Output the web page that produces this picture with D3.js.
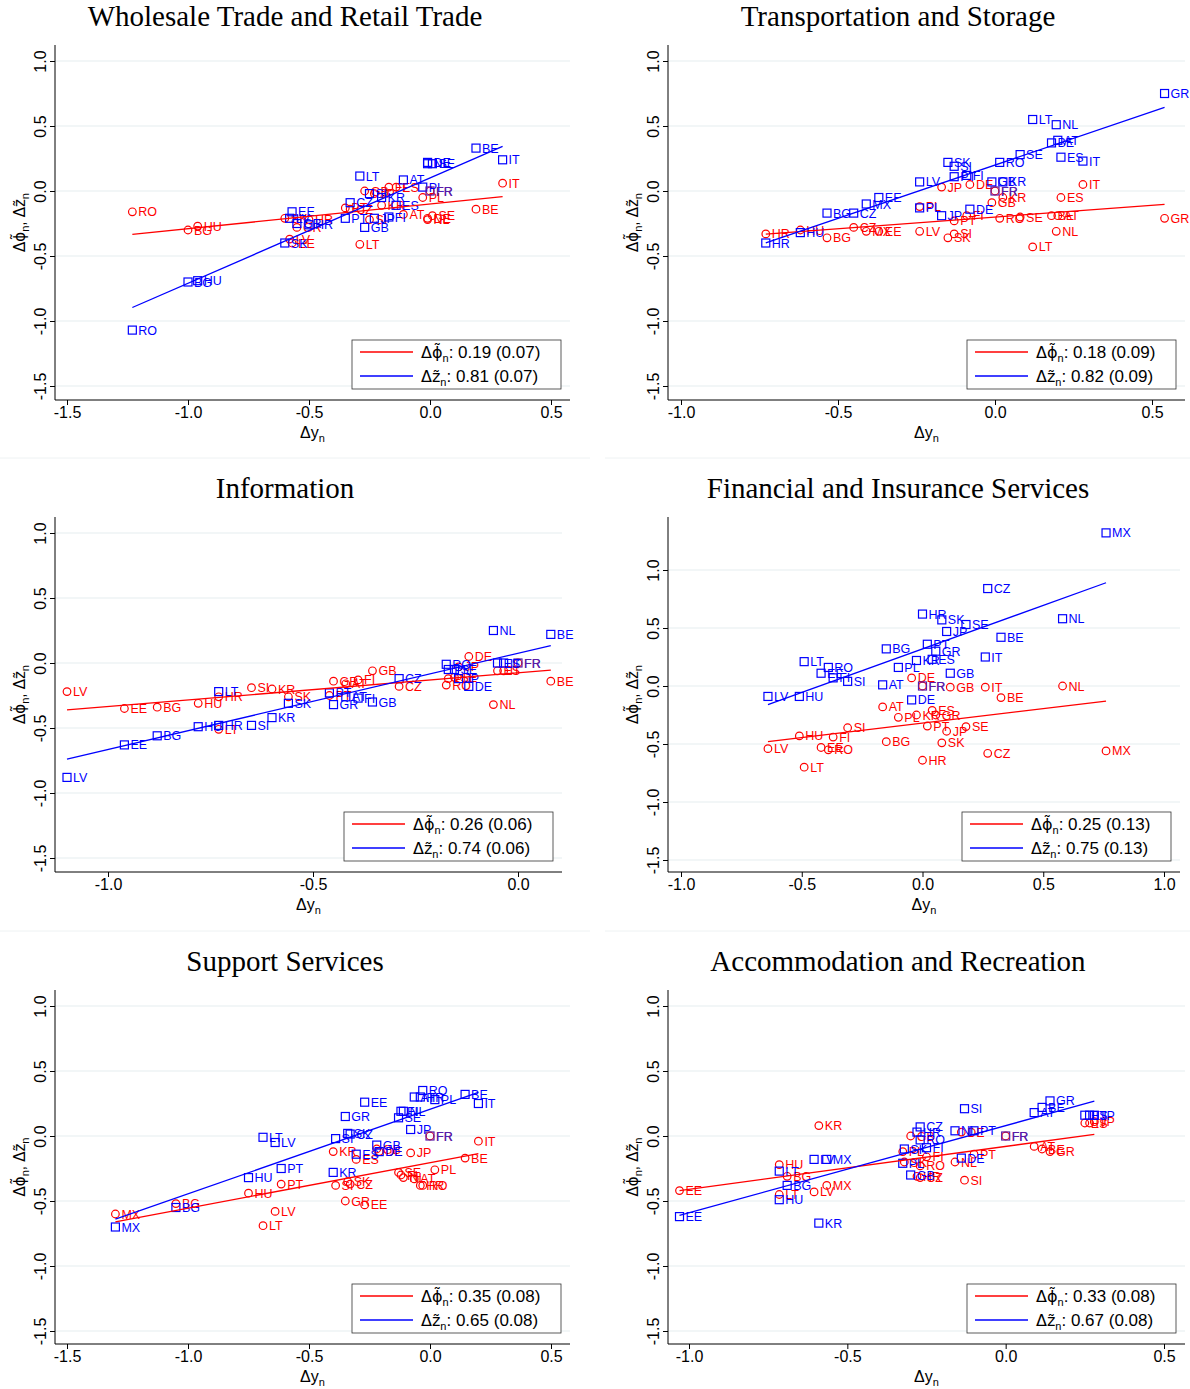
<!DOCTYPE html>
<html>
<head>
<meta charset="utf-8">
<script src="https://cdn.jsdelivr.net/npm/d3@7"></script>
<style>
  body { margin: 0; background: #fff; }
  svg text { font-family: "Liberation Sans", Arial, sans-serif; }
  .sym { font-family: "DejaVu Sans", sans-serif; }
</style>
</head>
<body>
<svg id="chart" width="1190" height="1389"></svg>
<script>
// ---- data ----
const panelTitles = ["Wholesale Trade and Retail Trade", "Transportation and Storage", "Information",
  "Financial and Insurance Services", "Support Services", "Accommodation and Recreation"];

const wholesaleCountries = ["RO","BG","HU","SK","LV","EE","GR","HR","CZ","PT","LT","GB","SI","JP","KR","FI","ES","AT","PL","DE","NL","SE","FR","BE","IT"];
const wholesaleDy  = [-1.23,-1.00,-0.96,-0.60,-0.58,-0.57,-0.55,-0.50,-0.33,-0.35,-0.29,-0.27,-0.25,-0.23,-0.20,-0.17,-0.14,-0.11,-0.03,-0.01,-0.01,0.01,0.00,0.19,0.30];
const wholesalePhi = [-0.16,-0.30,-0.27,-0.21,-0.37,-0.40,-0.28,-0.22,-0.14,-0.13,-0.41,0.00,-0.22,-0.02,-0.11,0.03,0.03,-0.18,-0.05,-0.21,-0.22,-0.19,0.00,-0.14,0.06];
const wholesaleZ   = [-1.07,-0.70,-0.69,-0.40,-0.21,-0.16,-0.25,-0.26,-0.09,-0.21,0.115,-0.28,-0.02,-0.21,-0.05,-0.20,-0.11,0.085,0.03,0.22,0.21,0.21,0.00,0.33,0.24];

const transportCountries = ["HR","HU","BG","CZ","MX","EE","LV","PL","SK","SI","JP","PT","FI","DE","GB","KR","FR","RO","SE","LT","BE","NL","AT","ES","IT","GR"];
const transportDy  = [-0.73,-0.62,-0.535,-0.45,-0.41,-0.37,-0.24,-0.24,-0.15,-0.13,-0.17,-0.13,-0.09,-0.08,-0.01,0.025,0.00,0.015,0.08,0.12,0.18,0.195,0.20,0.21,0.28,0.54];
const transportPhi = [-0.33,-0.30,-0.36,-0.28,-0.31,-0.31,-0.31,-0.12,-0.36,-0.33,0.03,-0.23,-0.19,0.05,-0.09,-0.05,0.00,-0.21,-0.20,-0.43,-0.19,-0.31,-0.19,-0.05,0.05,-0.21];
const transportZ   = [-0.40,-0.32,-0.17,-0.17,-0.10,-0.05,0.07,-0.13,0.22,0.19,-0.19,0.11,0.12,-0.14,0.07,0.07,0.00,0.22,0.28,0.55,0.37,0.51,0.39,0.26,0.23,0.75];

const infoCountries = ["LV","EE","BG","HU","LT","HR","SI","KR","SK","PT","GR","AT","FI","GB","CZ","RO","PL","SE","JP","DE","NL","ES","IT","FR","BE"];
const infoDy  = [-1.10,-0.96,-0.88,-0.78,-0.73,-0.73,-0.65,-0.60,-0.56,-0.46,-0.45,-0.42,-0.39,-0.355,-0.29,-0.175,-0.17,-0.155,-0.145,-0.12,-0.06,-0.05,-0.035,0.00,0.08];
const infoPhi = [-0.22,-0.35,-0.34,-0.31,-0.51,-0.26,-0.19,-0.20,-0.26,-0.25,-0.14,-0.16,-0.13,-0.06,-0.18,-0.17,-0.12,-0.11,-0.03,0.05,-0.32,-0.06,-0.06,0.00,-0.14];
const infoZ   = [-0.88,-0.63,-0.56,-0.49,-0.22,-0.48,-0.48,-0.42,-0.31,-0.23,-0.32,-0.26,-0.27,-0.30,-0.12,-0.01,-0.05,-0.05,-0.12,-0.18,0.25,0.00,0.00,0.00,0.22];

const financeCountries = ["LV","HU","LT","EE","RO","FI","SI","AT","BG","PL","DE","KR","HR","FR","PT","ES","GR","SK","JP","GB","SE","IT","CZ","BE","NL","MX"];
const financeDy  = [-0.64,-0.51,-0.49,-0.42,-0.39,-0.37,-0.31,-0.165,-0.15,-0.10,-0.045,-0.025,0.00,0.00,0.02,0.04,0.055,0.08,0.10,0.115,0.18,0.26,0.27,0.325,0.58,0.76];
const financePhi = [-0.54,-0.43,-0.70,-0.53,-0.55,-0.44,-0.36,-0.18,-0.48,-0.27,0.07,-0.25,-0.64,0.00,-0.345,-0.21,-0.25,-0.49,-0.39,-0.01,-0.35,-0.01,-0.58,-0.10,0.00,-0.56];
const financeZ   = [-0.09,-0.09,0.21,0.11,0.16,0.07,0.04,0.01,0.32,0.16,-0.12,0.22,0.62,0.00,0.36,0.23,0.30,0.57,0.47,0.11,0.53,0.25,0.84,0.42,0.58,1.32];

const supportCountries = ["MX","BG","HU","LT","LV","PT","KR","SI","GR","SK","CZ","ES","EE","GB","DE","SE","FI","NL","JP","AT","HR","RO","PL","FR","BE","IT"];
const supportDy  = [-1.30,-1.05,-0.75,-0.69,-0.64,-0.615,-0.40,-0.39,-0.35,-0.34,-0.33,-0.305,-0.27,-0.22,-0.21,-0.13,-0.12,-0.11,-0.08,-0.065,-0.04,-0.03,0.02,0.00,0.145,0.20];
const supportPhi = [-0.60,-0.52,-0.44,-0.69,-0.58,-0.37,-0.12,-0.38,-0.50,-0.35,-0.37,-0.18,-0.53,-0.10,-0.12,-0.28,-0.30,-0.32,-0.13,-0.33,-0.38,-0.38,-0.26,0.00,-0.17,-0.04];
const supportZ   = [-0.70,-0.55,-0.32,-0.01,-0.05,-0.25,-0.28,-0.02,0.15,0.02,0.015,-0.14,0.26,-0.07,-0.12,0.14,0.19,0.19,0.05,0.30,0.30,0.35,0.28,0.00,0.32,0.25];

const accomCountries = ["EE","HU","LT","BG","LV","KR","MX","SK","PL","GB","CZ","HR","RO","FI","NL","DE","SI","PT","FR","AT","BE","GR","ES","IT","JP"];
const accomDy  = [-1.03,-0.715,-0.715,-0.69,-0.605,-0.59,-0.565,-0.32,-0.325,-0.30,-0.27,-0.28,-0.27,-0.25,-0.16,-0.14,-0.13,-0.10,0.00,0.09,0.115,0.14,0.25,0.265,0.28];
const accomPhi = [-0.42,-0.22,-0.45,-0.31,-0.43,0.08,-0.38,-0.20,-0.12,0.00,-0.32,-0.31,-0.23,-0.16,-0.20,0.03,-0.34,-0.14,0.00,-0.08,-0.10,-0.12,0.10,0.10,0.11];
const accomZ   = [-0.62,-0.49,-0.27,-0.38,-0.18,-0.67,-0.18,-0.10,-0.21,-0.30,0.07,0.03,-0.03,-0.09,0.04,-0.17,0.21,0.04,0.00,0.18,0.22,0.27,0.16,0.16,0.16];

// fitted lines and legend numbers
const phiSlope     = [0.19, 0.18, 0.26, 0.25, 0.35, 0.33];
const phiIntercept = [-0.10, -0.20, -0.075, -0.32, -0.205, -0.08];
const zSlope       = [0.81, 0.82, 0.74, 0.75, 0.65, 0.67];
const zIntercept   = [0.10, 0.20, 0.075, 0.32, 0.205, 0.08];
const slopeSE      = [0.07, 0.09, 0.06, 0.13, 0.08, 0.08];

const xTicks = [[-1.5,-1,-0.5,0,0.5], [-1,-0.5,0,0.5], [-1,-0.5,0], [-1,-0.5,0,0.5,1], [-1.5,-1,-0.5,0,0.5], [-1,-0.5,0,0.5]];
const yTicks = [-1.5,-1,-0.5,0,0.5,1];

const panelData = [
  [wholesaleCountries, wholesaleDy, wholesalePhi, wholesaleZ],
  [transportCountries, transportDy, transportPhi, transportZ],
  [infoCountries, infoDy, infoPhi, infoZ],
  [financeCountries, financeDy, financePhi, financeZ],
  [supportCountries, supportDy, supportPhi, supportZ],
  [accomCountries, accomDy, accomPhi, accomZ]
];

// ---- layout ----
const frames = [
  {left: 55,  right: 570,  top: 45,  bottom: 400,  xr: [67, 551],   yr: [386, 61],    cx: 285},
  {left: 668, right: 1185, top: 45,  bottom: 400,  xr: [681, 1152], yr: [386, 61],    cx: 898},
  {left: 55,  right: 562,  top: 517, bottom: 872,  xr: [108, 518],  yr: [858, 533],   cx: 285},
  {left: 668, right: 1180, top: 517, bottom: 872,  xr: [681, 1164], yr: [860, 570],   cx: 898},
  {left: 55,  right: 570,  top: 990, bottom: 1344, xr: [67, 551],   yr: [1331, 1006], cx: 285},
  {left: 668, right: 1185, top: 990, bottom: 1344, xr: [689, 1164], yr: [1331, 1006], cx: 898}
];
const RED = "#ff0000", BLUE = "#0000ff", GRID = "#e6eef0";

const svg = d3.select("#chart");

// faint panel separators
[458, 931].forEach(yy => {
  svg.append("line").attr("x1", 0).attr("x2", 590).attr("y1", yy).attr("y2", yy).attr("stroke", "#eef2f3");
  svg.append("line").attr("x1", 605).attr("x2", 1190).attr("y1", yy).attr("y2", yy).attr("stroke", "#eef2f3");
});

function fmt(d) { return d.toFixed(1); }

panelData.forEach((pd, i) => {
  const f = frames[i];
  const [countries, dy, phi, z] = pd;
  const xt = xTicks[i];
  const x = d3.scaleLinear().domain([xt[0], xt[xt.length - 1]]).range(f.xr);
  const y = d3.scaleLinear().domain([-1.5, 1.0]).range(f.yr);
  const g = svg.append("g");

  // title
  g.append("text").attr("x", f.cx).attr("y", f.top - 19).attr("text-anchor", "middle")
    .style("font-family", "'Liberation Serif', 'DejaVu Serif', serif").attr("font-size", 29)
    .text(panelTitles[i]);

  // gridlines
  g.selectAll(".grid").data(yTicks).enter().append("line")
    .attr("x1", f.left).attr("x2", f.right)
    .attr("y1", d => y(d)).attr("y2", d => y(d))
    .attr("stroke", GRID).attr("stroke-width", 1.2);

  // x axis
  const xa = g.append("g").attr("transform", `translate(0,${f.bottom})`)
    .call(d3.axisBottom(x).tickValues(xt).tickFormat(fmt).tickSize(5).tickSizeOuter(0));
  xa.select(".domain").remove();
  xa.attr("font-size", 16).attr("font-family", "Liberation Sans, Arial, sans-serif");
  xa.selectAll("text").attr("y", 7).attr("fill", "#000");
  g.append("line").attr("x1", f.left).attr("x2", f.right).attr("y1", f.bottom).attr("y2", f.bottom)
    .attr("stroke", "#000");

  // y axis
  const ya = g.append("g").attr("transform", `translate(${f.left},0)`)
    .call(d3.axisLeft(y).tickValues(yTicks).tickFormat(fmt).tickSize(5).tickSizeOuter(0));
  ya.select(".domain").remove();
  ya.attr("font-size", 16).attr("font-family", "Liberation Sans, Arial, sans-serif");
  ya.selectAll("text").attr("transform", "rotate(-90)").attr("x", 0).attr("y", -9)
    .attr("dy", 0).attr("text-anchor", "middle").attr("fill", "#000");
  g.append("line").attr("x1", f.left).attr("x2", f.left).attr("y1", f.top).attr("y2", f.bottom)
    .attr("stroke", "#000");

  // axis titles
  const xt2 = g.append("text").attr("x", (f.left + f.right) / 2).attr("y", f.bottom + 38)
    .attr("text-anchor", "middle").attr("font-size", 16);
  xt2.append("tspan").text("Δy");
  xt2.append("tspan").attr("font-size", 11).attr("dy", 4).text("n");

  const yt = g.append("text")
    .attr("transform", `translate(${f.left - 30},${(f.top + f.bottom) / 2}) rotate(-90)`)
    .attr("text-anchor", "middle").attr("font-size", 15);
  yt.append("tspan").attr("class", "sym").text("Δϕ\u0303");
  yt.append("tspan").attr("font-size", 11).attr("dy", 4).text("n");
  yt.append("tspan").attr("dy", -4).text(", ");
  yt.append("tspan").attr("class", "sym").text("Δz\u0303");
  yt.append("tspan").attr("font-size", 11).attr("dy", 4).text("n");

  const pts = countries.map((c, k) => ({c, dy: dy[k], phi: phi[k], z: z[k]}));

  // red circles (Δφ)
  const red = g.append("g");
  red.selectAll("circle").data(pts).enter().append("circle")
    .attr("cx", d => x(d.dy)).attr("cy", d => y(d.phi)).attr("r", 3.8)
    .attr("fill", "none").attr("stroke", RED).attr("stroke-width", 1.2);
  red.selectAll("text").data(pts).enter().append("text")
    .attr("x", d => x(d.dy) + 6).attr("y", d => y(d.phi)).attr("dy", "0.36em")
    .attr("font-size", 12.5).attr("fill", d => d.c === "FR" ? "#5a1ca8" : RED).text(d => d.c);

  // blue squares (Δz)
  const blue = g.append("g");
  blue.selectAll("rect").data(pts).enter().append("rect")
    .attr("x", d => x(d.dy) - 4).attr("y", d => y(d.z) - 4).attr("width", 8).attr("height", 8)
    .attr("fill", "none").attr("stroke", d => d.c === "FR" ? "#5a1ca8" : BLUE).attr("stroke-width", 1.2);
  blue.selectAll("text").data(pts).enter().append("text")
    .attr("x", d => x(d.dy) + 6).attr("y", d => y(d.z)).attr("dy", "0.36em")
    .attr("font-size", 12.5).attr("fill", d => d.c === "FR" ? "#5a1ca8" : BLUE).text(d => d.c);

  // fitted lines
  const ext = d3.extent(dy);
  const line = d3.line().x(d => x(d[0])).y(d => y(d[1]));
  g.append("path").attr("d", line(ext.map(v => [v, phiIntercept[i] + phiSlope[i] * v])))
    .attr("stroke", RED).attr("stroke-width", 1.3).attr("fill", "none");
  g.append("path").attr("d", line(ext.map(v => [v, zIntercept[i] + zSlope[i] * v])))
    .attr("stroke", BLUE).attr("stroke-width", 1.3).attr("fill", "none");

  // legend
  const lw = 209, lh = 49;
  const lg = g.append("g").attr("transform", `translate(${f.right - 9 - lw},${f.bottom - 11 - lh})`);
  lg.append("rect").attr("width", lw).attr("height", lh).attr("fill", "#fff").attr("stroke", "#333").attr("stroke-width", 0.8);
  const entries = [
    {col: RED, sym: "Δϕ\u0303", coef: phiSlope[i]},
    {col: BLUE, sym: "Δz\u0303", coef: zSlope[i]}
  ];
  entries.forEach((e, k) => {
    const yy = 12 + k * 24;
    lg.append("line").attr("x1", 8).attr("x2", 61).attr("y1", yy).attr("y2", yy)
      .attr("stroke", e.col).attr("stroke-width", 1.3);
    const t = lg.append("text").attr("x", 69).attr("y", yy + 6).attr("font-size", 17);
    t.append("tspan").attr("class", "sym").attr("font-size", 16).text(e.sym);
    t.append("tspan").attr("font-size", 11).attr("dy", 4).text("n");
    t.append("tspan").attr("dy", -4).text(": " + e.coef.toFixed(2) + " (" + slopeSE[i].toFixed(2) + ")");
  });
});
</script>
</body>
</html>
